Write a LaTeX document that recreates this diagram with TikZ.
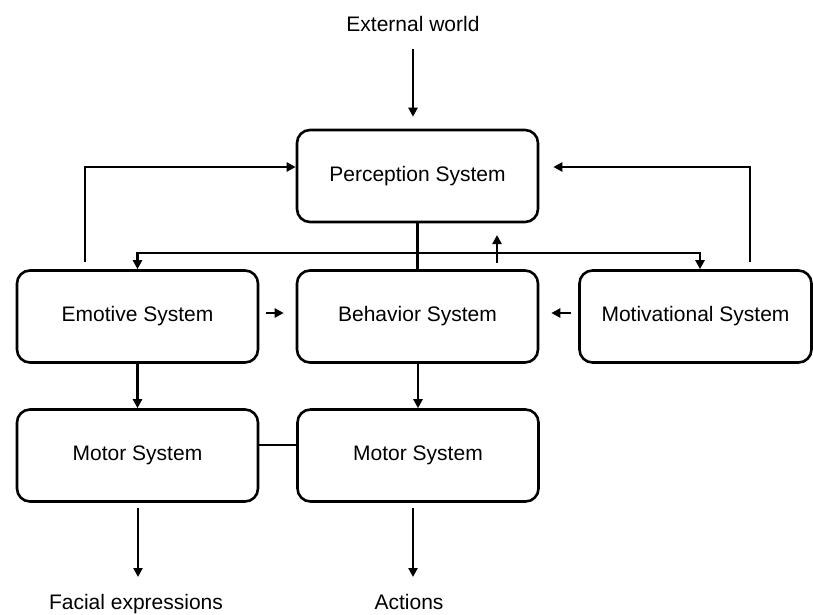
\documentclass[tikz,border=0pt]{standalone}
\usepackage{fontspec}
\setmainfont{Liberation Sans}
\usetikzlibrary{arrows.meta}
\begin{document}
\begin{tikzpicture}[x=1pt,y=-1pt,
  sysbox/.style={draw=black, line width=2.6pt, rounded corners=13pt, minimum width=241pt, minimum height=92pt, inner sep=0pt, font=\fontsize{21}{25}\selectfont},
  lbl/.style={inner sep=0pt, font=\fontsize{21}{25}\selectfont},
  conn/.style={draw=black, line width=2.4pt},
  arr/.style={conn, -{Triangle[length=9pt,width=9pt]}}]
\useasboundingbox (0,0) rectangle (813,614);
% nodes
\node[lbl, anchor=base] (ext) at (413,31) {External world};
\node[sysbox] (perc) at (417.5,176) {Perception System};
\node[sysbox] (emo) at (137.5,316.5) {Emotive System};
\node[sysbox] (beh) at (417.5,316.5) {Behavior System};
\node[sysbox, minimum width=232pt] (mot) at (695.5,316.5) {Motivational System};
\node[sysbox] (m1) at (137.5,455.5) {Motor System};
\node[sysbox] (m2) at (418,455.5) {Motor System};
\node[lbl, anchor=base] (face) at (136,609) {Facial expressions};
\node[lbl, anchor=base] (act) at (409,609) {Actions};
% helper coordinates
\coordinate (extA) at (413,49);
\coordinate (hl) at (0,253);
\coordinate (fbL) at (85,167);
\coordinate (fbR) at (750,167);
\coordinate (motIn) at (700,253);
\coordinate (upA) at (497,263);
\coordinate (upB) at (497,235);
\coordinate (a1s) at (138,508);
\coordinate (a1e) at (138,577);
\coordinate (a2s) at (413,508);
\coordinate (a2e) at (413,577);
% external world to perception
\draw[arr, shorten >=12pt] (extA) -- (extA |- perc.north);
% feedback from emotive
\draw[arr, shorten <=7pt] (emo.north -| fbL) |- ([yshift=9pt]perc.west);
% feedback from motivational
\draw[arr, shorten <=7pt, shorten >=14pt] (mot.north -| fbR) |- ([yshift=9pt]perc.east);
% perception down to behavior
\draw[conn] (perc.south) -- (beh.north);
% distribution line
\draw[arr] (perc.south |- hl) -| (emo.north);
\draw[arr] (perc.south |- hl) -| (motIn |- mot.north);
% behavior up arrow
\draw[arr] (upA) -- (upB);
% side arrows into behavior
\draw[arr, shorten <=7pt, shorten >=12pt] ([yshift=3.5pt]emo.east) -- ([yshift=3.5pt]beh.west);
\draw[arr, shorten <=7pt, shorten >=12pt] ([yshift=3.5pt]mot.west) -- ([yshift=3.5pt]beh.east);
% down to motor systems
\draw[arr] (emo.south) -- (m1.north);
\draw[arr] (beh.south -| m2.north) -- (m2.north);
% link between motor systems
\draw[conn] ([yshift=10.5pt]m1.east) -- ([yshift=10.5pt]m2.west);
% outputs
\draw[arr] (a1s) -- (a1e);
\draw[arr] (a2s) -- (a2e);
\end{tikzpicture}
\end{document}
